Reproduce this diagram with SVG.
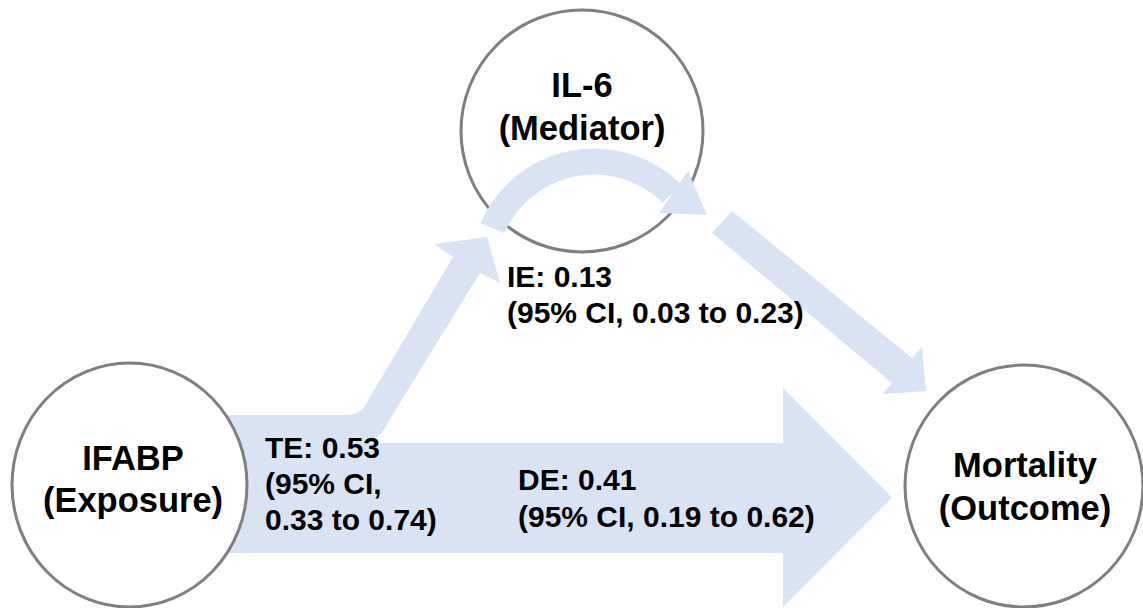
<svg xmlns="http://www.w3.org/2000/svg" width="1143" height="608" viewBox="0 0 1143 608">
<style>
.node{fill:#ffffff;stroke:#7f7f7f;stroke-width:3}
.arrow{fill:#dae3f3;stroke:none}
.arc{fill:none;stroke:#dae3f3;stroke-width:26}
.nl{font-family:"Liberation Sans",Arial,sans-serif;font-weight:bold;font-size:34.5px;fill:#000;text-anchor:middle}
.el{font-family:"Liberation Sans",Arial,sans-serif;font-weight:bold;font-size:30px;fill:#000}
</style>
<rect width="1143" height="608" fill="#ffffff"/>
<g id="node-il6">
<circle class="node" cx="582" cy="131" r="121"/>
<text class="nl" x="582" y="97">IL-6</text>
<text class="nl" x="582" y="140">(Mediator)</text>
</g>
<g id="connectors">
<path id="te-bent" class="arrow" d="M200 415 L350 415 Q362 414 370 397 L453 257 L434 244 L487 237 L500 283 L480 273 L390 419 Q379 441 366 443 L366 553 L200 553 Z"/>
<path id="de-arrow" class="arrow" d="M200 443 L783 443 L783 388 L892 497.5 L783 607 L783 553 L200 553 Z"/>
<path id="ie-arc" class="arc" d="M492.4 228.1 A111 111 0 0 1 672 193.5"/>
<polygon id="ie-arc-head" class="arrow" points="688,171 707,215 659,213"/>
<polygon id="ie-down" class="arrow" points="732,211 912,358 922,347 926,391 883,394 892,383 712,233"/>
</g>
<g id="node-ifabp">
<ellipse class="node" cx="129.5" cy="485" rx="117.5" ry="122"/>
<text class="nl" x="133" y="470">IFABP</text>
<text class="nl" x="133" y="512">(Exposure)</text>
</g>
<g id="node-mortality">
<ellipse class="node" cx="1024" cy="486" rx="119" ry="121"/>
<text class="nl" x="1025" y="477">Mortality</text>
<text class="nl" x="1025" y="520">(Outcome)</text>
</g>
<g id="labels">
<text class="el" x="265" y="458">TE: 0.53</text>
<text class="el" x="265" y="494">(95% CI,</text>
<text class="el" x="265" y="530">0.33 to 0.74)</text>
<text class="el" x="507" y="287">IE: 0.13</text>
<text class="el" x="507" y="323">(95% CI, 0.03 to 0.23)</text>
<text class="el" x="518" y="490">DE: 0.41</text>
<text class="el" x="518" y="527">(95% CI, 0.19 to 0.62)</text>
</g>
</svg>
